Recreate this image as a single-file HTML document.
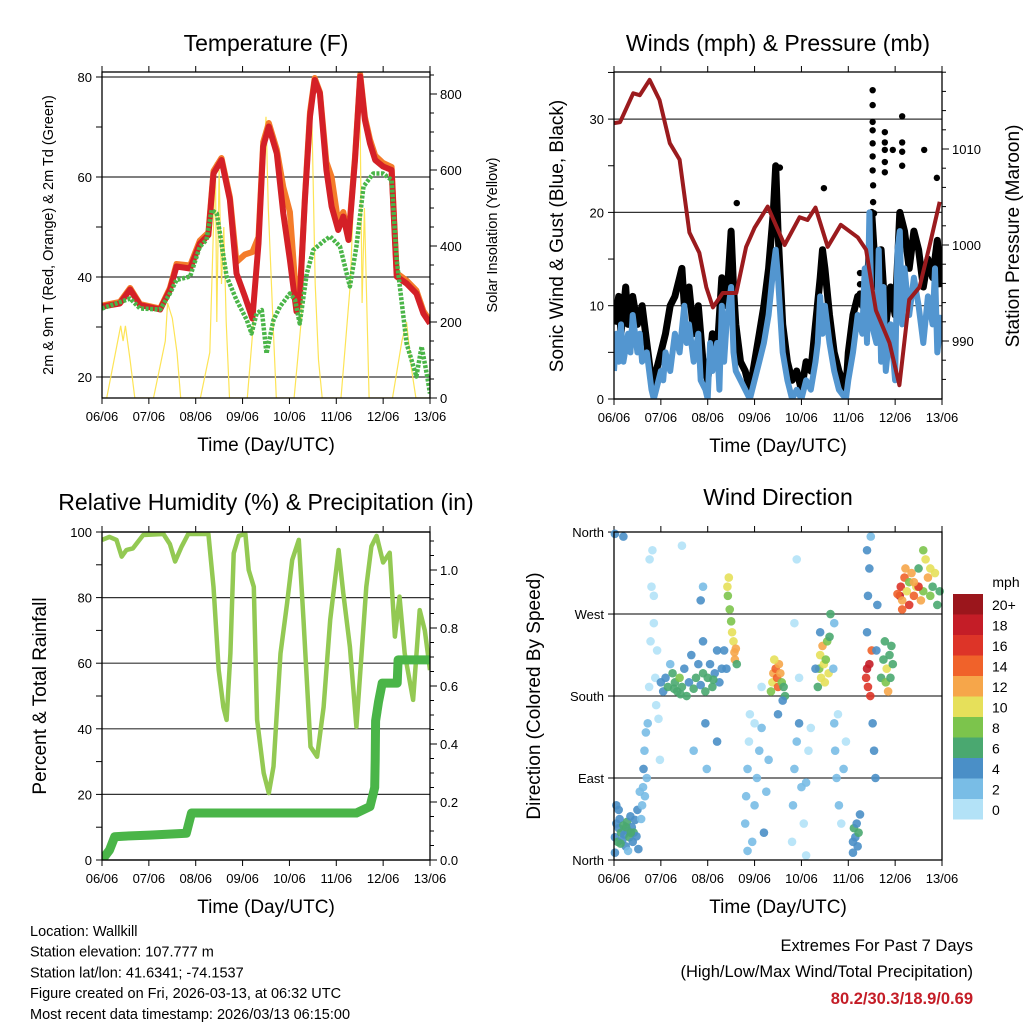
<!DOCTYPE html>
<html><head><meta charset="utf-8">
<style>
html,body{margin:0;padding:0;background:#fff;}
svg{display:block;font-family:"Liberation Sans",Arial,sans-serif;}
</style></head>
<body>
<svg id="root" width="1024" height="1024" viewBox="0 0 1024 1024" xmlns="http://www.w3.org/2000/svg">
<defs>
<clipPath id="c1"><rect x="102" y="72" width="328" height="326"/></clipPath>
<clipPath id="c2"><rect x="614" y="72" width="328" height="327"/></clipPath>
<clipPath id="c3"><rect x="102" y="532" width="328" height="328"/></clipPath>
<clipPath id="c4"><rect x="610" y="528" width="336" height="336"/></clipPath>
</defs>
</svg>
<script>
// ---------- DATA ----------
const dayLabels = ["06/06","07/06","08/06","09/06","10/06","11/06","12/06","13/06"];
// Temperature (F)
const redDays  = [0,0.38,0.60,0.81,1.24,1.45,1.59,1.88,2.09,2.27,2.38,2.55,2.73,2.87,3.05,3.21,3.34,3.44,3.56,3.73,3.87,4.01,4.15,4.22,4.33,4.44,4.54,4.65,4.79,4.90,5.04,5.15,5.26,5.40,5.51,5.61,5.72,5.83,6.00,6.18,6.29,6.50,6.71,6.86,7.0];
const redTemps = [34.1,34.7,37.5,34.4,33.5,37.4,42.1,41.7,46.7,48.4,60.7,63.4,55.4,40.7,36.1,31.7,46.7,66.1,70.1,64.7,52.7,43.4,33.1,35.4,55.4,72.1,79.4,76.7,61.4,54.1,49.4,52.1,47.4,63.4,80.1,71.4,66.7,63.4,62.1,61.4,40.1,38.7,36.7,32.7,30.7];
const orangeTemps = [34.3,35.0,37.8,34.6,33.7,37.8,42.6,42.3,47.3,48.9,61.2,63.8,56.0,43.0,44.5,45.0,48.0,67.0,70.8,65.5,58.0,53.0,35.0,36.0,56.0,73.0,79.8,77.0,63.0,60.0,51.0,53.0,48.0,64.0,80.5,72.0,67.5,64.3,62.8,62.0,40.8,39.3,37.3,33.2,31.2];
const dewDays  = [0,0.60,0.81,1.24,1.45,1.59,1.88,2.09,2.23,2.34,2.45,2.55,2.66,2.87,3.09,3.19,3.30,3.41,3.51,3.66,3.80,4.01,4.12,4.22,4.37,4.51,4.72,4.87,5.08,5.29,5.43,5.58,5.79,6.00,6.18,6.29,6.50,6.71,6.82,6.93,7.0];
const dewTemps = [33.7,35.7,33.7,33.5,36.7,39.4,40.1,46.1,47.4,53.4,52.7,46.7,40.1,35.4,31.4,28.7,32.7,33.4,24.7,31.4,34.1,36.7,35.4,30.7,40.7,45.4,47.1,48.1,46.1,38.1,46.1,58.1,60.7,60.7,59.4,43.4,26.7,20.1,26.1,20.7,16.7];
const solarDays = [0,0.1,0.4,0.45,0.5,0.6,0.7,1.1,1.35,1.4,1.5,1.6,1.68,2.1,2.3,2.42,2.45,2.5,2.55,2.6,2.65,2.72,3.1,3.3,3.5,3.55,3.65,3.72,4.1,4.25,4.4,4.47,4.55,4.62,4.7,5.1,5.3,5.42,5.5,5.55,5.6,5.7,6.2,6.4,6.5,6.6,6.7,7.0];
const solarVals = [0,0,190,150,190,100,0,0,150,250,210,120,0,0,120,620,200,600,300,450,200,0,0,300,740,500,200,0,0,200,600,790,300,100,0,0,300,700,830,250,500,0,0,150,200,80,0,0];
// Winds (mph) & pressure (mb)
const presDays = [0,0.13,0.41,0.55,0.76,0.97,1.19,1.40,1.61,1.82,1.97,2.11,2.32,2.61,2.82,3.00,3.28,3.64,3.96,4.13,4.30,4.56,4.84,5.20,5.38,5.59,5.88,6.09,6.30,6.52,6.73,6.95];
const presVals = [1012.7,1012.8,1015.8,1015.6,1017.2,1015.1,1010.6,1008.9,1001.3,999.2,995.6,993.5,995.0,995.0,999.8,1001.8,1004.0,1000.0,1002.9,1002.6,1003.9,999.8,1002.1,1000.8,999.5,993.2,989.8,985.4,994.3,995.6,999.8,1004.5];
const windDays = [0,0.05,0.1,0.15,0.2,0.3,0.35,0.4,0.5,0.55,0.6,0.7,0.8,0.85,0.9,1.0,1.05,1.1,1.2,1.3,1.4,1.5,1.55,1.6,1.7,1.8,1.85,1.95,2.0,2.05,2.1,2.2,2.25,2.3,2.35,2.4,2.5,2.55,2.6,2.7,2.8,2.9,3.0,3.1,3.2,3.3,3.4,3.45,3.5,3.55,3.6,3.7,3.8,3.9,4.0,4.1,4.2,4.3,4.35,4.4,4.45,4.5,4.6,4.7,4.8,4.95,5.0,5.1,5.2,5.3,5.35,5.4,5.45,5.5,5.6,5.65,5.7,5.75,5.8,5.9,6.0,6.05,6.1,6.15,6.2,6.3,6.4,6.5,6.6,6.7,6.8,6.85,6.9,7.0];
const windVals = [3,7,4,8,4,7,5,9,5,7,4,5,1,0,1,3,2,5,3,7,5,10,6,8,4,7,2,1,0,6,3,6,1,10,4,8,12,5,3,2,1,0,2,4,6,9,14,16,13,9,5,2,0,1,0,2,1,4,6,11,7,10,6,3,1,0,2,5,9,7,14,6,20,8,6,16,4,12,3,8,2,16,18,8,14,9,13,10,6,11,8,14,5,9];
const gustDays = [0,0.1,0.15,0.25,0.3,0.4,0.5,0.6,0.7,0.8,0.85,0.9,1.0,1.1,1.2,1.3,1.4,1.45,1.5,1.6,1.7,1.8,1.9,2.0,2.1,2.2,2.3,2.4,2.5,2.55,2.6,2.7,2.8,2.9,3.0,3.1,3.2,3.3,3.4,3.45,3.5,3.55,3.6,3.7,3.8,3.9,4.0,4.1,4.2,4.3,4.4,4.45,4.5,4.6,4.7,4.8,4.95,5.0,5.1,5.2,5.3,5.4,5.5,5.6,5.7,5.8,5.9,6.0,6.1,6.2,6.3,6.4,6.5,6.6,6.7,6.8,6.9,7.0];
const gustVals = [8,11,7,12,8,11,8,10,6,2,1,3,5,7,10,11,13,14,10,12,7,10,4,2,7,5,13,10,18,12,8,4,3,1,4,7,10,14,20,25,18,13,8,4,2,3,1,4,3,8,13,16,14,9,5,3,1,5,9,11,10,12,20,12,16,8,12,9,20,18,14,18,16,12,15,13,17,12];
const gustOutDays = [5.52,5.52,5.52,5.52,5.52,5.52,5.52,5.53,5.53,5.55,5.78,5.78,5.78,5.78,5.78,5.95,6.15,6.15,6.15,6.15,6.62,6.89,4.48,3.54,2.62,5.25,5.25,5.25];
const gustOutVals = [33.1,31.5,29.7,28.8,27.4,26.0,24.5,22.9,21.1,19.9,28.6,27.5,26.7,25.4,24.3,26.7,30.3,27.5,26.5,25.0,26.7,23.7,22.6,24.8,21.0,13.5,12.3,11.3];
// Relative humidity (%) & precipitation (in)
const rhDays = [0,0.16,0.31,0.42,0.52,0.66,0.88,1.31,1.45,1.56,1.70,1.84,2.27,2.38,2.49,2.59,2.66,2.74,2.81,2.92,3.06,3.13,3.24,3.31,3.45,3.56,3.66,3.81,3.95,4.06,4.20,4.30,4.45,4.59,4.73,4.87,5.05,5.15,5.29,5.43,5.54,5.64,5.75,5.86,6.00,6.14,6.25,6.35,6.46,6.64,6.78,6.89,7.0];
const rhVals = [97.6,98.5,97.6,92.5,94.5,95,99.1,99.4,96.3,91,95.6,99.4,99.4,83.3,57.9,46.6,42.7,63,93.5,98.8,99.4,88.4,83.3,42.7,26.5,20.4,28.5,63,78.3,91.5,97.6,73.2,34.5,31.5,46.6,73.2,94.5,81.3,65,40.6,63,83.3,95.6,98.8,90.7,93.7,68.1,80.3,63,48.8,76.2,70,57.9];
const rainDays = [0,0.16,0.27,0.45,1.02,1.80,1.91,2.59,5.43,5.72,5.79,5.82,5.83,5.84,5.90,5.98,6.30,6.32,7.0];
const rainVals = [0,0.034,0.08,0.082,0.086,0.092,0.162,0.162,0.162,0.184,0.23,0.25,0.345,0.48,0.545,0.61,0.61,0.69,0.69];
// Wind direction: [day, degrees, mph]
const dirObs = [
[0.02,25,4],[0.05,40,5],[0.08,20,6],[0.1,35,5],[0.12,45,4],[0.15,30,6],[0.18,22,5],[0.2,38,6],[0.22,28,5],[0.25,15,4],[0.28,42,6],[0.3,32,5],[0.33,25,6],[0.35,48,4],[0.38,36,5],[0.4,20,4],[0.42,30,6],[0.45,44,5],[0.48,26,4],[0.5,55,4],[0.52,12,4],[0.02,8,4],[0.05,60,4],[0.1,55,4],[0.3,10,3],[0.14,18,6],[0.26,36,6],[0.36,30,6],
[0.6,60,3],[0.62,80,3],[0.63,100,4],[0.65,120,3],[0.66,70,2],[0.68,140,2],[0.7,90,3],[0.72,150,2],[0.58,45,3],[0.55,75,3],
[0.75,190,1],[0.78,240,1],[0.8,300,1],[0.82,340,1],[0.85,260,0],[0.88,200,1],[0.9,170,0],[0.92,230,1],[0.95,155,1],[0.98,110,0],[0.76,330,1],[0.85,290,0],[0.2,355,4],[0.02,358,4],
[1.0,195,4],[1.05,185,5],[1.1,200,4],[1.15,190,6],[1.2,215,3],[1.25,205,7],[1.3,195,6],[1.35,185,7],[1.4,200,8],[1.45,190,7],[1.5,210,5],[1.55,180,6],[1.6,195,4],[1.65,225,5],[1.7,188,7],[1.75,200,6],[1.8,215,4],[1.85,192,5],[1.9,205,6],[1.95,185,7],[2.0,200,6],[2.05,215,5],[2.1,190,7],[2.15,205,4],[2.2,230,4],[2.25,195,4],[2.3,210,5],[1.9,240,5],[1.7,120,2],[1.95,150,4],[1.98,100,2],[1.85,285,4],[1.9,300,3],[1.45,345,1],[2.2,130,4],[1.28,188,6],[1.42,182,7],[2.12,198,7],
[2.42,300,10],[2.43,290,9],[2.45,310,10],[2.47,275,8],[2.5,262,8],[2.52,250,10],[2.55,240,11],[2.57,228,12],[2.58,220,13],[2.6,232,12],[2.62,215,7],[2.35,230,4],[2.4,210,4],
[2.8,40,2],[2.82,70,3],[2.85,100,2],[2.88,130,1],[2.9,160,0],[2.95,20,3],[3.0,60,2],[3.05,90,3],[3.1,120,2],[3.15,145,3],[3.2,30,4],[3.25,75,2],[3.3,110,3],[3.0,150,1],[3.15,190,1],[2.85,10,2],
[3.35,185,8],[3.38,195,10],[3.4,205,12],[3.45,210,14],[3.48,200,15],[3.5,190,14],[3.52,215,13],[3.55,205,12],[3.58,195,8],[3.62,190,7],[3.42,220,10],[3.65,180,6],[3.5,160,4],[3.6,175,4],
[3.8,20,1],[3.82,60,2],[3.85,100,2],[3.9,130,3],[3.95,150,4],[4.0,80,2],[4.05,40,1],[4.1,5,1],[4.15,120,1],[4.2,145,1],[3.85,260,1],[3.9,330,1],[3.95,200,1],[4.1,85,2],
[4.35,190,7],[4.38,210,9],[4.4,225,11],[4.42,200,10],[4.45,235,12],[4.48,215,10],[4.5,195,10],[4.52,220,9],[4.55,240,8],[4.58,205,10],[4.6,245,6],[4.62,270,6],[4.4,250,5],[4.3,210,4],
[4.7,150,2],[4.72,120,3],[4.75,90,2],[4.8,60,3],[4.85,40,1],[4.9,100,2],[4.95,130,1],[4.78,160,1],[4.68,210,3],[4.7,260,3],
[5.1,20,4],[5.12,35,6],[5.15,25,5],[5.18,40,4],[5.2,15,4],[5.22,30,6],[5.25,50,4],[5.1,8,4],
[5.38,200,17],[5.4,210,18],[5.42,190,16],[5.45,215,18],[5.47,180,17],[5.5,230,14],[5.4,250,4],[5.42,290,4],[5.45,320,4],[5.4,340,4],[5.52,150,4],[5.55,120,4],[5.58,90,4],[5.6,230,4],[5.62,280,4],[5.48,355,3],
[5.7,200,6],[5.75,220,7],[5.8,195,8],[5.82,210,10],[5.85,185,12],[5.88,225,7],[5.9,200,6],[5.95,215,6],[5.78,240,6],[5.92,235,7],
[6.1,290,18],[6.12,300,16],[6.15,285,12],[6.2,310,14],[6.25,295,10],[6.3,305,8],[6.35,315,12],[6.4,290,14],[6.45,300,10],[6.5,320,7],[6.55,285,12],[6.6,295,8],[6.65,330,10],[6.7,310,12],[6.75,290,9],[6.8,300,7],[6.85,315,11],[6.9,280,6],[6.95,295,7],[6.15,275,14],[6.3,280,16],[6.6,340,8],[6.22,320,13],[6.5,300,16],[6.05,292,15],[6.4,305,12],[6.75,320,10]
];
const speedLabels = ["20+","18","16","14","12","10","8","6","4","2","0"];
const speedColors = ["#9b161c","#c41d27","#dd3428","#f0622a","#f6a64a","#e6e05a","#7cc44c","#4aa870","#4a8fc7","#79bde6","#b3e2f7"];

// ---------- HELPERS ----------
const svg = document.getElementById('root');
const NS = 'http://www.w3.org/2000/svg';
function mk(tag, attrs, parent, name, inter) {
  const el = document.createElementNS(NS, tag);
  for (const k in attrs) el.setAttribute(k, attrs[k]);
  
  
  (parent || svg).appendChild(el);
  return el;
}
function txt(x, y, s, size, anchor, parent, name, extra) {
  const a = Object.assign({x:x, y:y, 'font-size':size, 'text-anchor':anchor||'middle', fill:'#000'}, extra||{});
  const t = mk('text', a, parent, name);
  t.textContent = s;
  return t;
}
function pts(xs, ys, fx, fy) { return xs.map((d,i)=>fx(d).toFixed(1)+','+fy(ys[i]).toFixed(1)).join(' '); }

function panelFrame(g, x0, y0, x1, y1, prefix) {
  const xs = d => x0 + d*(x1-x0)/7;
  for (let i=0;i<8;i++) {
    const x = xs(i);
    mk('line',{x1:x,y1:y0-6,x2:x,y2:y0,stroke:'#000','stroke-width':1},g,prefix+'-top-tick');
    mk('line',{x1:x,y1:y1,x2:x,y2:y1+6,stroke:'#000','stroke-width':1},g,prefix+'-x-tick');
    txt(x, y1+23, dayLabels[i], 13, 'middle', g, prefix+'-x-tick-label');
  }
  txt((x0+x1)/2, y1+53, 'Time (Day/UTC)', 19, 'middle', g, prefix+'-x-axis-title');
  return xs;
}
function border(g, x0, y0, x1, y1, prefix) {
  mk('rect',{x:x0,y:y0,width:x1-x0,height:y1-y0,fill:'none',stroke:'#000','stroke-width':1.3},g,prefix+'-plot-border');
}
function rotText(x, y, s, size, g, name) {
  return txt(x, y, s, size, 'middle', g, name, {transform:'rotate(-90 '+x+' '+y+')'});
}

// ---------- PANEL 1: TEMPERATURE ----------
(function(){
  const g = mk('g',{},svg,'temperature-panel');
  const x0=102,y0=72,x1=430,y1=398;
  const xs = panelFrame(g,x0,y0,x1,y1,'temp');
  const yT = v => 77 + (80-v)*5;
  const yS = w => 398 - w*0.38;
  txt(266, 51, 'Temperature (F)', 23, 'middle', g, 'temperature-title');
  for (let v=20; v<=80; v+=10) {
    mk('line',{x1:x0-6,y1:yT(v),x2:x0,y2:yT(v),stroke:'#000'},g,'temp-y-tick');
    if (v%20===0) {
      mk('line',{x1:x0,y1:yT(v),x2:x1,y2:yT(v),stroke:'#333','stroke-width':1.2},g,'temp-gridline');
      txt(x0-10, yT(v)+5, String(v), 13, 'end', g, 'temp-y-tick-label');
    }
  }
  for (let w=0; w<=850; w+=50) {
    const major = w%200===0;
    mk('line',{x1:x1,y1:yS(w),x2:x1+(major?7:4),y2:yS(w),stroke:'#000'},g,'solar-y-tick');
    if (major) txt(x1+10, yS(w)+5, String(w), 13, 'start', g, 'solar-y-tick-label');
  }
  rotText(53, 235, '2m & 9m T (Red, Orange) & 2m Td (Green)', 14.5, g, 'temp-y-axis-title');
  rotText(497, 235, 'Solar Insolation (Yellow)', 14.5, g, 'solar-y-axis-title');
  const c = mk('g',{'clip-path':'url(#c1)'},g,'temp-series');
  mk('polyline',{points:pts(solarDays,solarVals,xs,yS),fill:'none',stroke:'#fde456','stroke-width':1.2},c,'solar-insolation-line');
  mk('polyline',{points:pts(redDays,orangeTemps,xs,yT),fill:'none',stroke:'#f47c2a','stroke-width':6,'stroke-linejoin':'round'},c,'temp-9m-orange-line');
  mk('polyline',{points:pts(redDays,redTemps,xs,yT),fill:'none',stroke:'#d42027','stroke-width':6,'stroke-linejoin':'round'},c,'temp-2m-red-line');
  mk('polyline',{points:pts(dewDays,dewTemps,xs,yT),fill:'none',stroke:'#4ab548','stroke-width':4.5,'stroke-dasharray':'3 1.5','stroke-linejoin':'round'},c,'dewpoint-green-line');
  border(g,x0,y0,x1,y1,'temp');
})();

// ---------- PANEL 2: WINDS & PRESSURE ----------
(function(){
  const g = mk('g',{},svg,'winds-panel');
  const x0=614,y0=72,x1=942,y1=399;
  const xs = panelFrame(g,x0,y0,x1,y1,'wind');
  const yW = m => 399 - m*9.33;
  const yP = p => 149 + (1010-p)*9.6;
  txt(778, 51, 'Winds (mph) & Pressure (mb)', 23, 'middle', g, 'winds-title');
  for (let m=0; m<=35; m+=5) {
    mk('line',{x1:x0-6,y1:yW(m),x2:x0,y2:yW(m),stroke:'#000'},g,'wind-y-tick');
    if (m%10===0) {
      mk('line',{x1:x0,y1:yW(m),x2:x1,y2:yW(m),stroke:'#333','stroke-width':1.2},g,'wind-gridline');
      txt(x0-10, yW(m)+5, String(m), 13, 'end', g, 'wind-y-tick-label');
    }
  }
  for (let p=986; p<=1018; p+=2) {
    const major = p%10===0;
    mk('line',{x1:x1,y1:yP(p),x2:x1+(major?7:4),y2:yP(p),stroke:'#000'},g,'pressure-y-tick');
    if (major) txt(x1+10, yP(p)+5, String(p), 13, 'start', g, 'pressure-y-tick-label');
  }
  rotText(563, 236, 'Sonic Wind & Gust (Blue, Black)', 19, g, 'wind-y-axis-title');
  rotText(1019, 236, 'Station Pressure (Maroon)', 19, g, 'pressure-y-axis-title');
  const c = mk('g',{'clip-path':'url(#c2)'},g,'wind-series');
  mk('polyline',{points:pts(gustDays,gustVals,xs,yW),fill:'none',stroke:'#000','stroke-width':7,'stroke-linejoin':'round'},c,'gust-black-dots');
  gustOutDays.forEach((d,i)=>{
    mk('circle',{cx:xs(d),cy:yW(gustOutVals[i]),r:3.2,fill:'#000'},c,'gust-outlier-dot');
  });
  mk('polyline',{points:pts(windDays,windVals,xs,yW),fill:'none',stroke:'#5396d0','stroke-width':6,'stroke-linejoin':'round'},c,'sonic-wind-blue-line');
  mk('polyline',{points:pts(presDays,presVals,xs,yP),fill:'none',stroke:'#9b1b1e','stroke-width':4,'stroke-linejoin':'round'},c,'pressure-maroon-line');
  border(g,x0,y0,x1,y1,'wind');
})();

// ---------- PANEL 3: RH & PRECIP ----------
(function(){
  const g = mk('g',{},svg,'humidity-panel');
  const x0=102,y0=532,x1=430,y1=860;
  const xs = panelFrame(g,x0,y0,x1,y1,'rh');
  const yR = v => 860 - v*3.28;
  const yP = r => 860 - r*290;
  txt(266, 510, 'Relative Humidity (%) & Precipitation (in)', 23, 'middle', g, 'humidity-title');
  for (let v=0; v<=100; v+=10) {
    mk('line',{x1:x0-6,y1:yR(v),x2:x0,y2:yR(v),stroke:'#000'},g,'rh-y-tick');
    if (v%20===0) {
      mk('line',{x1:x0,y1:yR(v),x2:x1,y2:yR(v),stroke:'#333','stroke-width':1.2},g,'rh-gridline');
      txt(x0-10, yR(v)+5, String(v), 13, 'end', g, 'rh-y-tick-label');
    }
  }
  for (let k=0; k<=22; k++) {
    const r = k*0.05, major = k%4===0;
    mk('line',{x1:x1,y1:yP(r),x2:x1+(major?7:4),y2:yP(r),stroke:'#000'},g,'rain-y-tick');
    if (major) txt(x1+10, yP(r)+5, r.toFixed(1), 13, 'start', g, 'rain-y-tick-label');
  }
  rotText(46, 696, 'Percent & Total Rainfall', 19, g, 'rh-y-axis-title');
  const c = mk('g',{'clip-path':'url(#c3)'},g,'rh-series');
  mk('polyline',{points:pts(rhDays,rhVals,xs,yR),fill:'none',stroke:'#93c953','stroke-width':4.5,'stroke-linejoin':'round'},c,'relative-humidity-line');
  mk('polyline',{points:pts(rainDays,rainVals,xs,yP),fill:'none',stroke:'#4ab548','stroke-width':9,'stroke-linejoin':'round','stroke-linecap':'round'},c,'total-rainfall-line');
  border(g,x0,y0,x1,y1,'rh');
})();

// ---------- PANEL 4: WIND DIRECTION ----------
(function(){
  const g = mk('g',{},svg,'wind-direction-panel');
  const x0=614,y0=532,x1=942,y1=860;
  const xs = panelFrame(g,x0,y0,x1,y1,'dir');
  const yD = d => 860 - d*0.911;
  txt(778, 505, 'Wind Direction', 23, 'middle', g, 'wind-direction-title');
  const dirNames = ['North','East','South','West','North'];
  for (let i=0;i<5;i++) {
    const y = yD(i*90);
    mk('line',{x1:x0-6,y1:y,x2:x0,y2:y,stroke:'#000'},g,'dir-y-tick');
    if (i>0 && i<4) mk('line',{x1:x0,y1:y,x2:x1,y2:y,stroke:'#333','stroke-width':1.2},g,'dir-gridline');
    txt(x0-10, y+5, dirNames[i], 13, 'end', g, 'dir-y-tick-label');
  }
  rotText(540, 696, 'Direction (Colored By Speed)', 19, g, 'dir-y-axis-title');
  const c = mk('g',{'clip-path':'url(#c4)'},g,'dir-series');
  dirObs.forEach(o=>{
    const idx = Math.min(10, Math.floor(o[2]/2));
    mk('circle',{cx:xs(o[0]),cy:yD(o[1]),r:4.3,fill:speedColors[10-idx],'fill-opacity':0.9},c,'wind-direction-dot');
  });
  border(g,x0,y0,x1,y1,'dir');
  // colorbar
  const cb = mk('g',{},g,'speed-colorbar');
  txt(1006, 587, 'mph', 14, 'middle', cb, 'colorbar-title');
  speedLabels.forEach((lab,i)=>{
    const y = 594 + i*20.5;
    mk('rect',{x:953,y:y,width:30,height:20.5,fill:speedColors[i]},cb,'colorbar-swatch');
    txt(992, y+16, lab, 14, 'start', cb, 'colorbar-label');
  });
})();

// ---------- FOOTER TEXT ----------
(function(){
  const g = mk('g',{},svg,'station-info');
  const lines = ['Location: Wallkill','Station elevation: 107.777 m','Station lat/lon: 41.6341; -74.1537','Figure created on Fri, 2026-03-13, at 06:32 UTC','Most recent data timestamp: 2026/03/13 06:15:00'];
  lines.forEach((s,i)=>{ txt(30, 936+i*20.7, s, 14.5, 'start', g, 'station-info-line'); });
  const e = mk('g',{},svg,'extremes-summary');
  txt(973, 951, 'Extremes For Past 7 Days', 16.5, 'end', e, 'extremes-heading');
  txt(973, 977, '(High/Low/Max Wind/Total Precipitation)', 16.5, 'end', e, 'extremes-subheading');
  txt(973, 1004, '80.2/30.3/18.9/0.69', 16.5, 'end', e, 'extremes-values', {fill:'#c41d27','font-weight':'bold'});
})();
</script>
</body></html>
